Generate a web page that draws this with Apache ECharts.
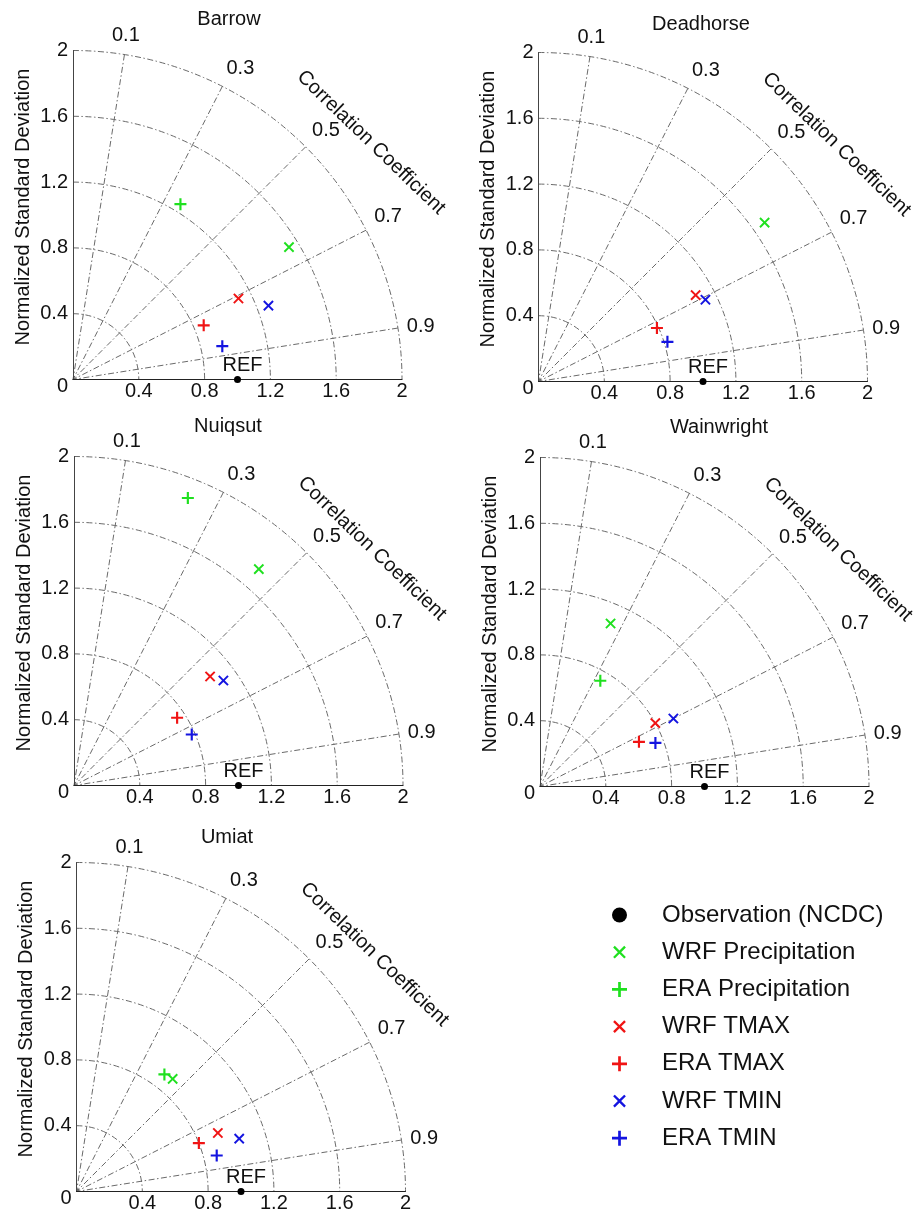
<!DOCTYPE html>
<html>
<head>
<meta charset="utf-8">
<script src="https://cdn.jsdelivr.net/npm/echarts@6/dist/echarts.min.js"></script>
<style>
  html, body { margin: 0; padding: 0; background: #fff; }
  #chart { width: 914px; height: 1215px; }
</style>
</head>
<body>
<div id="chart"></div>
<script>
// Stations, one Taylor-style diagram each
const stations = ['Barrow', 'Deadhorse', 'Nuiqsut', 'Wainwright', 'Umiat'];

// Normalized standard deviation and correlation per station (same order as stations)
const wrfPrecipStd  = [1.54, 1.68, 1.73, 1.08, 0.90];
const wrfPrecipCorr = [0.65, 0.61, 0.45, 0.26, 0.45];
const eraPrecipStd  = [1.25, 2.06, 1.88, 0.74, 0.89];
const eraPrecipCorr = [0.35, 0.23, 0.24, 0.33, 0.41];
const wrfTmaxStd    = [1.12, 1.09, 1.06, 0.80, 0.93];
const wrfTmaxCorr   = [0.71, 0.68, 0.57, 0.68, 0.75];
const eraTmaxStd    = [0.86, 0.79, 0.75, 0.66, 0.80];
const eraTmaxCorr   = [0.75, 0.73, 0.63, 0.73, 0.76];
const wrfTminStd    = [1.27, 1.13, 1.11, 0.91, 1.04];
const wrfTminCorr   = [0.77, 0.71, 0.61, 0.70, 0.80];
const eraTminStd    = [0.93, 0.82, 0.78, 0.75, 0.88];
const eraTminCorr   = [0.86, 0.81, 0.74, 0.77, 0.84];

// Reference point (observations): std = 1, correlation = 1
const obsStd = 1;
const obsCorr = 1;

// Axis ticks
const stdMin = 0, stdMax = 2, stdStep = 0.4;
const corrTicks = [0.1, 0.3, 0.5, 0.7, 0.9];

const legendNames = ['Observation (NCDC)', 'WRF Precipitation', 'ERA Precipitation',
                     'WRF TMAX', 'ERA TMAX', 'WRF TMIN', 'ERA TMIN'];

// ---- drawing setup ----
const FONT = '"Liberation Sans", Arial, Helvetica, sans-serif';
const TXT = '#111';
const GRIDC = '#6a6a6a';
const DASH = [6, 2.5, 1.5, 2.5];
const RPX = 329;

// plot origin (std = 0) in pixels and title centre for each panel
const panels = [
  { ox: 73,    oy: 379.5,  tx: 229, ty: 19 },
  { ox: 538.5, oy: 381.5,  tx: 701, ty: 24 },
  { ox: 74,    oy: 785.5,  tx: 228, ty: 426 },
  { ox: 540,   oy: 786.5,  tx: 719, ty: 427 },
  { ox: 76.5,  oy: 1191.5, tx: 227, ty: 837 }
];

// '+' and 'x' marker outlines (the 'x' keeps a small margin inside its box)
const PLUS = 'path://M4.1,0H5.9V4.1H10V5.9H5.9V10H4.1V5.9H0V4.1H4.1Z';
const CROSS = 'path://M0,0M20,20M3.7,1.5L10,7.8L16.3,1.5L18.5,3.7L12.2,10L18.5,16.3L16.3,18.5L10,12.2L3.7,18.5L1.5,16.3L7.8,10L1.5,3.7Z';

const GREEN = '#1fe01f', RED = '#f01414', BLUE = '#1414e0';

const models = [
  { name: 'WRF Precipitation', std: wrfPrecipStd, corr: wrfPrecipCorr, symbol: CROSS, size: 12.5, color: GREEN },
  { name: 'ERA Precipitation', std: eraPrecipStd, corr: eraPrecipCorr, symbol: PLUS,  size: 12,   color: GREEN },
  { name: 'WRF TMAX',          std: wrfTmaxStd,   corr: wrfTmaxCorr,   symbol: CROSS, size: 12.5, color: RED },
  { name: 'ERA TMAX',          std: eraTmaxStd,   corr: eraTmaxCorr,   symbol: PLUS,  size: 12,   color: RED },
  { name: 'WRF TMIN',          std: wrfTminStd,   corr: wrfTminCorr,   symbol: CROSS, size: 12.5, color: BLUE },
  { name: 'ERA TMIN',          std: eraTminStd,   corr: eraTminCorr,   symbol: PLUS,  size: 12,   color: BLUE }
];

const grid = [], xAxis = [], yAxis = [], polar = [], angleAxis = [], radiusAxis = [];
const series = [], title = [], graphic = [];

stations.forEach(function (st, i) {
  const p = panels[i];

  title.push({
    text: st, left: p.tx, top: p.ty, padding: 0,
    textAlign: 'center', textVerticalAlign: 'middle',
    textStyle: { fontFamily: FONT, fontSize: 20, fontWeight: 'normal', color: TXT }
  });

  // Cartesian frame: the two straight axes with their tick labels
  grid.push({ left: p.ox, top: p.oy - RPX, width: RPX, height: RPX });
  xAxis.push({
    type: 'value', gridIndex: i, min: stdMin, max: stdMax, interval: stdStep,
    axisLine: { lineStyle: { color: '#222', width: 1 } },
    axisTick: { show: false }, splitLine: { show: false },
    axisLabel: { showMinLabel: false, margin: 2, fontFamily: FONT, fontSize: 20, color: TXT }
  });
  yAxis.push({
    type: 'value', gridIndex: i, min: stdMin, max: stdMax, interval: stdStep,
    name: 'Normalized Standard Deviation', nameLocation: 'middle', nameRotate: 90, nameGap: 40,
    nameTextStyle: { fontFamily: FONT, fontSize: 20, color: TXT, padding: [0, 0, 0, 16] },
    axisLine: { lineStyle: { color: '#444', width: 1 } },
    axisTick: { show: false }, splitLine: { show: false },
    axisLabel: {
      margin: 5, fontFamily: FONT, fontSize: 20, color: TXT,
      formatter: function (v) { return v === 0 ? '{z|0}' : String(v); },
      rich: { z: { fontFamily: FONT, fontSize: 20, color: TXT, padding: [14, 0, 0, 0] } }
    }
  });

  // Polar frame: std arcs and correlation rays
  polar.push({ center: [p.ox, p.oy], radius: RPX });
  angleAxis.push({
    type: 'value', polarIndex: i, min: 0, max: 1,
    startAngle: 90, endAngle: 0, clockwise: true,
    axisLine: { show: false },
    axisTick: { show: false, customValues: corrTicks },
    splitLine: { show: true, lineStyle: { color: GRIDC, width: 1, type: DASH } },
    axisLabel: { customValues: corrTicks, margin: 9, fontFamily: FONT, fontSize: 20, color: TXT }
  });
  radiusAxis.push({
    type: 'value', polarIndex: i, min: stdMin, max: stdMax, interval: stdStep,
    axisLine: { show: false }, axisTick: { show: false }, axisLabel: { show: false },
    splitLine: { show: true, lineStyle: { color: GRIDC, width: 1, type: DASH } }
  });

  graphic.push({
    type: 'text', x: p.ox + 298, y: p.oy - 237, rotation: -44 * Math.PI / 180,
    style: { text: 'Correlation Coefficient', font: '20px ' + FONT, fill: TXT,
             align: 'center', verticalAlign: 'middle' }
  });

  models.forEach(function (m) {
    series.push({
      type: 'scatter', name: m.name, coordinateSystem: 'polar', polarIndex: i,
      symbol: m.symbol, symbolSize: m.size, itemStyle: { color: m.color, opacity: 1 },
      data: [[m.std[i], m.corr[i]]]
    });
  });

  series.push({
    type: 'scatter', name: legendNames[0], coordinateSystem: 'polar', polarIndex: i,
    symbol: 'circle', symbolSize: 7, itemStyle: { color: '#000', opacity: 1 },
    label: { show: true, formatter: 'REF', position: 'top', distance: 1, offset: [5, 0],
             fontFamily: FONT, fontSize: 20, color: TXT },
    data: [[obsStd, obsCorr]]
  });
});

const chart = echarts.init(document.getElementById('chart'), null, { renderer: 'canvas' });
chart.setOption({
  animation: false,
  backgroundColor: '#fff',
  title: title,
  grid: grid, xAxis: xAxis, yAxis: yAxis,
  polar: polar, angleAxis: angleAxis, radiusAxis: radiusAxis,
  legend: {
    data: legendNames, orient: 'vertical', left: 612, top: 903, padding: 0,
    itemWidth: 75, itemHeight: 15, itemGap: 13.2, selectedMode: false,
    textStyle: { fontFamily: FONT, fontSize: 24, lineHeight: 24, color: TXT }
  },
  graphic: graphic,
  series: series
});
</script>
</body>
</html>
